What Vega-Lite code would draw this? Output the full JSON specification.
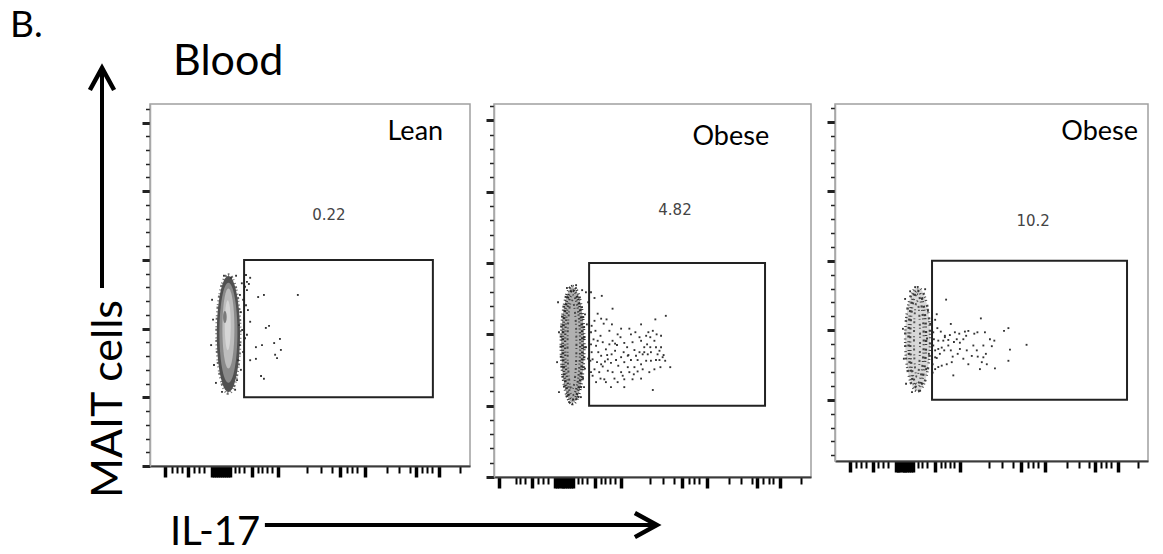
{
 "$schema": "https://vega.github.io/schema/vega-lite/v6.json",
 "padding": {"left": 10, "top": 7, "right": 5, "bottom": 5},
 "background": "white",
 "spacing": 24,
 "bounds": "flush",
 "config": {"view": {"stroke": null}, "axis": {"grid": false}},
 "datasets": {
  "events": [
   {"p":"a","u":338,"v":2.46},{"p":"a","u":356,"v":2.49},{"p":"a","u":462,"v":2.49},{"p":"a","u":309,"v":2.65},{"p":"a","u":313,"v":2.10},{"p":"a","u":362,"v":2.01},{"p":"a","u":372,"v":2.04},{"p":"a","u":406,"v":1.85},{"p":"a","u":388,"v":1.79},{"p":"a","u":331,"v":1.73},{"p":"a","u":350,"v":1.76},{"p":"a","u":409,"v":1.69},{"p":"a","u":391,"v":1.62},{"p":"a","u":397,"v":1.57},{"p":"a","u":331,"v":1.56},{"p":"a","u":347,"v":1.31},{"p":"a","u":356,"v":1.27},{"p":"a","u":313,"v":1.54},{"p":"a","u":303,"v":2.56},{"p":"a","u":306,"v":2.27},{"p":"a","u":303,"v":1.91},
   {"p":"a","u":287,"v":2.66},{"p":"a","u":297,"v":2.61},{"p":"a","u":281,"v":2.49},{"p":"a","u":291,"v":2.42},{"p":"a","u":300,"v":2.34},{"p":"a","u":284,"v":2.24},{"p":"a","u":294,"v":2.15},{"p":"a","u":278,"v":2.05},{"p":"a","u":288,"v":1.98},{"p":"a","u":297,"v":1.86},{"p":"a","u":281,"v":1.76},{"p":"a","u":291,"v":1.66},{"p":"a","u":275,"v":1.54},{"p":"a","u":284,"v":1.40},{"p":"a","u":272,"v":1.25},{"p":"a","u":194,"v":2.42},{"p":"a","u":197,"v":2.13},{"p":"a","u":191,"v":1.76},{"p":"a","u":200,"v":1.47},{"p":"a","u":206,"v":1.21},{"p":"a","u":225,"v":1.08},{"p":"a","u":266,"v":1.11},{"p":"a","u":253,"v":2.74},{"p":"a","u":231,"v":2.77},{"p":"a","u":269,"v":2.77},{"p":"a","u":300,"v":2.78},{"p":"a","u":313,"v":2.74},{"p":"a","u":303,"v":2.68},
   {"p":"b","u":317,"v":2.51},{"p":"b","u":340,"v":2.54},{"p":"b","u":374,"v":2.36},{"p":"b","u":338,"v":2.22},{"p":"b","u":355,"v":2.21},{"p":"b","u":372,"v":2.14},{"p":"b","u":464,"v":2.14},{"p":"b","u":509,"v":2.21},{"p":"b","u":542,"v":2.26},{"p":"b","u":320,"v":2.05},{"p":"b","u":336,"v":1.98},{"p":"b","u":390,"v":2.00},{"p":"b","u":374,"v":1.91},{"p":"b","u":382,"v":1.87},{"p":"b","u":388,"v":1.85},{"p":"b","u":411,"v":1.88},{"p":"b","u":432,"v":2.00},{"p":"b","u":446,"v":2.03},{"p":"b","u":487,"v":2.03},{"p":"b","u":513,"v":2.00},{"p":"b","u":527,"v":1.98},{"p":"b","u":493,"v":1.96},{"p":"b","u":464,"v":1.91},{"p":"b","u":506,"v":1.91},{"p":"b","u":483,"v":1.86},{"p":"b","u":474,"v":1.82},{"p":"b","u":493,"v":1.82},{"p":"b","u":511,"v":1.82},{"p":"b","u":527,"v":1.82},{"p":"b","u":443,"v":1.78},{"p":"b","u":409,"v":1.75},{"p":"b","u":424,"v":1.71},{"p":"b","u":401,"v":1.68},{"p":"b","u":459,"v":1.75},{"p":"b","u":469,"v":1.72},{"p":"b","u":432,"v":1.64},{"p":"b","u":453,"v":1.64},{"p":"b","u":480,"v":1.63},{"p":"b","u":495,"v":1.63},{"p":"b","u":511,"v":1.64},{"p":"b","u":522,"v":1.64},{"p":"b","u":532,"v":1.68},{"p":"b","u":556,"v":1.54},{"p":"b","u":359,"v":1.65},{"p":"b","u":369,"v":1.60},{"p":"b","u":343,"v":1.55},{"p":"b","u":329,"v":1.75},{"p":"b","u":322,"v":1.84},{"p":"b","u":314,"v":1.93},{"p":"b","u":311,"v":1.65},{"p":"b","u":317,"v":1.51},{"p":"b","u":332,"v":1.47},{"p":"b","u":359,"v":1.49},{"p":"b","u":374,"v":1.47},{"p":"b","u":401,"v":1.47},{"p":"b","u":427,"v":1.47},{"p":"b","u":453,"v":1.48},{"p":"b","u":469,"v":1.51},{"p":"b","u":443,"v":1.54},{"p":"b","u":422,"v":1.54},{"p":"b","u":411,"v":1.37},{"p":"b","u":437,"v":1.37},{"p":"b","u":464,"v":1.38},{"p":"b","u":369,"v":1.26},{"p":"b","u":411,"v":1.26},{"p":"b","u":501,"v":1.22},{"p":"b","u":348,"v":1.37},{"p":"b","u":390,"v":1.33},{"p":"b","u":322,"v":1.33},{"p":"b","u":338,"v":1.70},{"p":"b","u":353,"v":1.79},{"p":"b","u":364,"v":1.86},{"p":"b","u":343,"v":1.89},{"p":"b","u":327,"v":1.91},{"p":"b","u":411,"v":1.61},{"p":"b","u":392,"v":1.56},{"p":"b","u":385,"v":1.64},{"p":"b","u":485,"v":1.72},{"p":"b","u":464,"v":1.58},{"p":"b","u":506,"v":1.51},{"p":"b","u":522,"v":1.77},{"p":"b","u":501,"v":2.05},{"p":"b","u":480,"v":1.98},{"p":"b","u":306,"v":2.03},{"p":"b","u":306,"v":1.86},{"p":"b","u":308,"v":1.75},{"p":"b","u":304,"v":1.63},{"p":"b","u":306,"v":1.47},{"p":"b","u":311,"v":1.42},{"p":"b","u":308,"v":2.12},{"p":"b","u":317,"v":2.19},{"p":"b","u":327,"v":2.29},{"p":"b","u":346,"v":2.15},{"p":"b","u":364,"v":2.05},{"p":"b","u":399,"v":1.96},{"p":"b","u":420,"v":1.82},{"p":"b","u":437,"v":1.89},{"p":"b","u":459,"v":1.96},{"p":"b","u":427,"v":2.08},{"p":"b","u":401,"v":2.08},{"p":"b","u":382,"v":1.77},{"p":"b","u":371,"v":1.72},{"p":"b","u":357,"v":1.71},{"p":"b","u":422,"v":1.70},{"p":"b","u":448,"v":1.70},{"p":"b","u":474,"v":1.75},{"p":"b","u":495,"v":1.75},{"p":"b","u":516,"v":1.72},{"p":"b","u":535,"v":1.71},{"p":"b","u":540,"v":1.63},{"p":"b","u":525,"v":1.54},{"p":"b","u":490,"v":1.47},{"p":"b","u":441,"v":1.44},{"p":"b","u":406,"v":1.42},{"p":"b","u":380,"v":1.38},{"p":"b","u":353,"v":1.33},{"p":"b","u":336,"v":1.38},{"p":"b","u":325,"v":1.61},{"p":"b","u":338,"v":1.58},{"p":"b","u":350,"v":1.62},
   {"p":"b","u":290,"v":2.59},{"p":"b","u":297,"v":2.45},{"p":"b","u":287,"v":2.28},{"p":"b","u":293,"v":2.14},{"p":"b","u":284,"v":1.96},{"p":"b","u":290,"v":1.82},{"p":"b","u":297,"v":1.66},{"p":"b","u":287,"v":1.52},{"p":"b","u":281,"v":1.38},{"p":"b","u":284,"v":1.26},{"p":"b","u":274,"v":1.12},{"p":"b","u":202,"v":2.45},{"p":"b","u":205,"v":2.03},{"p":"b","u":199,"v":1.61},{"p":"b","u":205,"v":1.19},{"p":"b","u":259,"v":2.69},{"p":"b","u":230,"v":2.65},{"p":"b","u":278,"v":2.62},{"p":"b","u":306,"v":2.59},{"p":"b","u":237,"v":1.05},{"p":"b","u":259,"v":1.09},
   {"p":"c","u":355,"v":2.44},{"p":"c","u":466,"v":2.17},{"p":"c","u":370,"v":2.09},{"p":"c","u":320,"v":2.15},{"p":"c","u":327,"v":2.03},{"p":"c","u":338,"v":1.98},{"p":"c","u":351,"v":1.92},{"p":"c","u":367,"v":1.93},{"p":"c","u":383,"v":1.97},{"p":"c","u":397,"v":1.95},{"p":"c","u":415,"v":1.98},{"p":"c","u":426,"v":1.99},{"p":"c","u":445,"v":1.95},{"p":"c","u":455,"v":1.97},{"p":"c","u":479,"v":1.97},{"p":"c","u":495,"v":1.87},{"p":"c","u":509,"v":1.85},{"p":"c","u":540,"v":1.99},{"p":"c","u":554,"v":2.03},{"p":"c","u":612,"v":1.79},{"p":"c","u":559,"v":1.72},{"p":"c","u":554,"v":1.56},{"p":"c","u":511,"v":1.45},{"p":"c","u":463,"v":1.44},{"p":"c","u":469,"v":1.54},{"p":"c","u":474,"v":1.61},{"p":"c","u":482,"v":1.66},{"p":"c","u":456,"v":1.62},{"p":"c","u":453,"v":1.71},{"p":"c","u":421,"v":1.71},{"p":"c","u":426,"v":1.51},{"p":"c","u":392,"v":1.66},{"p":"c","u":376,"v":1.62},{"p":"c","u":373,"v":1.54},{"p":"c","u":357,"v":1.51},{"p":"c","u":341,"v":1.49},{"p":"c","u":330,"v":1.47},{"p":"c","u":320,"v":1.44},{"p":"c","u":325,"v":1.60},{"p":"c","u":335,"v":1.66},{"p":"c","u":349,"v":1.71},{"p":"c","u":362,"v":1.78},{"p":"c","u":380,"v":1.83},{"p":"c","u":399,"v":1.82},{"p":"c","u":410,"v":1.87},{"p":"c","u":389,"v":1.87},{"p":"c","u":362,"v":1.86},{"p":"c","u":346,"v":1.85},{"p":"c","u":330,"v":1.85},{"p":"c","u":316,"v":1.87},{"p":"c","u":314,"v":1.78},{"p":"c","u":320,"v":1.71},{"p":"c","u":320,"v":1.61},{"p":"c","u":378,"v":1.35},{"p":"c","u":351,"v":1.90},{"p":"c","u":442,"v":1.78},{"p":"c","u":474,"v":1.78},{"p":"c","u":501,"v":1.77},{"p":"c","u":419,"v":1.92},{"p":"c","u":399,"v":1.73},{"p":"c","u":314,"v":1.97},{"p":"c","u":325,"v":2.23},{"p":"c","u":312,"v":1.51},{"p":"c","u":312,"v":1.39},{"p":"c","u":410,"v":1.59},{"p":"c","u":437,"v":1.63},{"p":"c","u":485,"v":1.51},{"p":"c","u":341,"v":1.75},{"p":"c","u":370,"v":1.71},{"p":"c","u":330,"v":1.73},
   {"p":"c","u":288,"v":2.59},{"p":"c","u":278,"v":2.45},{"p":"c","u":297,"v":2.28},{"p":"c","u":304,"v":2.09},{"p":"c","u":294,"v":1.88},{"p":"c","u":300,"v":1.66},{"p":"c","u":291,"v":1.44},{"p":"c","u":278,"v":1.23},{"p":"c","u":224,"v":2.45},{"p":"c","u":217,"v":2.02},{"p":"c","u":220,"v":1.59},{"p":"c","u":227,"v":1.23},{"p":"c","u":256,"v":2.62},{"p":"c","u":240,"v":2.56},{"p":"c","u":272,"v":1.13},{"p":"c","u":246,"v":1.11}
  ]
 },
 "hconcat": [
  {
   "width": 320, "height": 362,
   "encoding": {
    "x": {"field":"u","type":"quantitative","scale":{"domain":[0,1000],"nice":false,"zero":false},
     "axis":{"orient":"bottom","title":null,"labels":false,"grid":false,"values":[47,68,83,99,120,138,153,169,194,200,206,213,219,225,231,238,244,250,266,278,294,319,338,350,366,381,400,491,534,569,594,616,631,647,672,741,778,813,831,850,866,881,903,969],"domainColor":"#3a3a3a","domainWidth":2,"tickColor":"#000","tickSize":{"condition":{"test":"indexof([47,120,194,200,206,213,219,225,231,238,244,250,319,400,594,672,831,903], datum.value) >= 0","value":11},"value":7},"tickWidth":{"condition":{"test":"indexof([47,120,194,200,206,213,219,225,231,238,244,250,319,400,594,672,831,903], datum.value) >= 0","value":3.5},"value":2},"zindex":1}},
    "y": {"field":"v","type":"quantitative","scale":{"domain":[0,5.27],"nice":false,"zero":false},
     "axis":{"orient":"left","title":null,"labels":false,"grid":false,"values":[0,0.2,0.4,0.6,0.8,1,1.2,1.4,1.6,1.8,2,2.2,2.4,2.6,2.8,3,3.2,3.4,3.6,3.8,4,4.2,4.4,4.6,4.8,5,5.2],"domainColor":"#a8a8a8","domainWidth":1.5,"tickColor":"#222","tickSize":{"condition":{"test":"datum.value % 1 === 0","value":8},"value":4.5},"tickWidth":{"condition":{"test":"datum.value % 1 === 0","value":3},"value":1.5},"zindex":1}}
   },
   "layer": [
    {"data":{"values":[{"u":0,"u2":1000,"v":0,"v2":5.27}]},"mark":{"type":"rect","filled":false,"stroke":"#a0a0a0","strokeWidth":1.5},"encoding":{"x2":{"field":"u2"},"y2":{"field":"v2"}}},
    {"data":{"values":[{"u":245,"v":1.92}]},"mark":{"type":"point","shape":"M0,-1C0.11,-1,0.2,-0.552,0.2,0C0.2,0.552,0.11,1,0,1C-0.11,1,-0.2,0.552,-0.2,0C-0.2,-0.552,-0.11,-1,0,-1Z","size":14161,"filled":false,"stroke":"#6a6a6a","strokeWidth":2.5,"strokeDash":[1,2.5,2,1.5,1,3],"opacity":1}},
    {"data":{"values":[{"u":245,"v":1.92}]},"mark":{"type":"point","shape":"M0,-1C0.11,-1,0.2,-0.552,0.2,0C0.2,0.552,0.11,1,0,1C-0.11,1,-0.2,0.552,-0.2,0C-0.2,-0.552,-0.11,-1,0,-1Z","size":13456,"filled":true,"fill":"#505050","strokeWidth":0,"opacity":1}},
    {"data":{"values":[{"u":245,"v":1.94}]},"mark":{"type":"point","shape":"M0,-1C0.099,-1,0.18,-0.552,0.18,0C0.18,0.552,0.099,1,0,1C-0.099,1,-0.18,0.552,-0.18,0C-0.18,-0.552,-0.099,-1,0,-1Z","size":10000,"filled":true,"fill":"#8a8a8a","strokeWidth":0,"opacity":1}},
    {"data":{"values":[{"u":245,"v":2.0}]},"mark":{"type":"point","shape":"M0,-1C0.083,-1,0.15,-0.552,0.15,0C0.15,0.552,0.083,1,0,1C-0.083,1,-0.15,0.552,-0.15,0C-0.15,-0.552,-0.083,-1,0,-1Z","size":6400,"filled":true,"fill":"#bdbdbd","strokeWidth":0,"opacity":1}},
    {"data":{"values":[{"u":243,"v":2.05}]},"mark":{"type":"point","shape":"M0,-1C0.066,-1,0.12,-0.552,0.12,0C0.12,0.552,0.066,1,0,1C-0.066,1,-0.12,0.552,-0.12,0C-0.12,-0.552,-0.066,-1,0,-1Z","size":2500,"filled":true,"fill":"#d6d6d6","strokeWidth":0,"opacity":1}},
    {"data":{"values":[{"u":234,"v":2.17}]},"mark":{"type":"point","shape":"M0,-1C0.166,-1,0.3,-0.552,0.3,0C0.3,0.552,0.166,1,0,1C-0.166,1,-0.3,0.552,-0.3,0C-0.3,-0.552,-0.166,-1,0,-1Z","size":144,"filled":true,"fill":"#7a7a7a","strokeWidth":0,"opacity":1}},
    {"data":{"name":"events"},"transform":[{"filter":"datum.p === 'a'"}],"mark":{"type":"point","shape":"square","size":3.5,"filled":true,"color":"#333","opacity":1}},
    {"data":{"values":[{"u":294,"u2":884,"v":1,"v2":3}]},"mark":{"type":"rect","filled":false,"stroke":"#222","strokeWidth":2},"encoding":{"x2":{"field":"u2"},"y2":{"field":"v2"}}},
    {"data":{"values":[{"u":559,"v":3.58,"label":"0.22"}]},"mark":{"type":"text","font":"DejaVu Sans","fontSize":15,"color":"#444","align":"center","baseline":"alphabetic"},"encoding":{"text":{"field":"label","type":"nominal"}}},
    {"data":{"values":[{"u":916,"v":4.75,"label":"Lean"}]},"mark":{"type":"text","font":"Lato","fontSize":27,"color":"#000","align":"right","baseline":"alphabetic"},"encoding":{"text":{"field":"label","type":"nominal"}}},
    {"data":{"values":[{"u":-437.5,"v":6.245,"label":"B."}]},"mark":{"type":"text","font":"Lato","fontSize":37,"color":"#000","align":"left","baseline":"alphabetic"},"encoding":{"text":{"field":"label","type":"nominal"}}},
    {"data":{"values":[{"u":71.9,"v":5.692,"label":"Blood"}]},"mark":{"type":"text","font":"Lato","fontSize":43,"color":"#000","align":"left","baseline":"alphabetic"},"encoding":{"text":{"field":"label","type":"nominal"}}},
    {"data":{"values":[{"u":-87.5,"v":-0.466,"label":"MAIT cells"}]},"mark":{"type":"text","font":"Lato","fontSize":43,"color":"#000","align":"left","baseline":"alphabetic","angle":270},"encoding":{"text":{"field":"label","type":"nominal"}}},
    {"data":{"values":[{"u":62.5,"v":-1.15,"label":"IL-17"}]},"mark":{"type":"text","font":"Lato","fontSize":40,"color":"#000","align":"left","baseline":"alphabetic"},"encoding":{"text":{"field":"label","type":"nominal"}}},
    {"data":{"values":[{"u":-150,"v":2.591,"v2":5.765}]},"mark":{"type":"rule","stroke":"#000","strokeWidth":4},"encoding":{"y2":{"field":"v2"}}},
    {"data":{"values":[{"u":-150,"v":5.794}]},"mark":{"type":"point","shape":"M-0.55,1L0,0L0.55,1","size":1936,"filled":false,"stroke":"#000","strokeWidth":4.5,"strokeJoin":"miter","opacity":1}},
    {"data":{"values":[{"u":359,"u2":1578,"v":-0.859}]},"mark":{"type":"rule","stroke":"#000","strokeWidth":4},"encoding":{"x2":{"field":"u2"}}},
    {"data":{"values":[{"u":1584,"v":-0.859}]},"mark":{"type":"point","shape":"M-1,-0.55L0,0L-1,0.55","size":1936,"filled":false,"stroke":"#000","strokeWidth":4.5,"strokeJoin":"miter","opacity":1}}
   ]
  },
  {
   "width": 317, "height": 373,
   "encoding": {
    "x": {"field":"u","type":"quantitative","scale":{"domain":[0,1000],"nice":false,"zero":false},
     "axis":{"orient":"bottom","title":null,"labels":false,"grid":false,"values":[16,68,83,99,120,138,153,169,194,200,206,213,219,225,231,238,244,250,266,278,294,319,338,350,366,381,400,491,534,569,594,616,631,647,672,741,778,813,831,850,866,881,903,969],"domainColor":"#3a3a3a","domainWidth":2,"tickColor":"#000","tickSize":{"condition":{"test":"indexof([16,120,194,200,206,213,219,225,231,238,244,250,319,400,594,672,831,903], datum.value) >= 0","value":11},"value":7},"tickWidth":{"condition":{"test":"indexof([16,120,194,200,206,213,219,225,231,238,244,250,319,400,594,672,831,903], datum.value) >= 0","value":3.5},"value":2},"zindex":1}},
    "y": {"field":"v","type":"quantitative","scale":{"domain":[0,5.23],"nice":false,"zero":false},
     "axis":{"orient":"left","title":null,"labels":false,"grid":false,"values":[0,0.2,0.4,0.6,0.8,1,1.2,1.4,1.6,1.8,2,2.2,2.4,2.6,2.8,3,3.2,3.4,3.6,3.8,4,4.2,4.4,4.6,4.8,5,5.2],"domainColor":"#a8a8a8","domainWidth":1.5,"tickColor":"#222","tickSize":{"condition":{"test":"datum.value % 1 === 0","value":8},"value":4.5},"tickWidth":{"condition":{"test":"datum.value % 1 === 0","value":3},"value":1.5},"zindex":1}}
   },
   "layer": [
    {"data":{"values":[{"u":0,"u2":1000,"v":0,"v2":5.23}]},"mark":{"type":"rect","filled":false,"stroke":"#a0a0a0","strokeWidth":1.5},"encoding":{"x2":{"field":"u2"},"y2":{"field":"v2"}}},
    {"data":{"values":[{"u":248,"v":1.85}]},"mark":{"type":"point","shape":"M0,-1C0.11,-1,0.2,-0.552,0.2,0C0.2,0.552,0.11,1,0,1C-0.11,1,-0.2,0.552,-0.2,0C-0.2,-0.552,-0.11,-1,0,-1Z","size":13225,"filled":true,"fill":"#b0b0b0","strokeWidth":0,"opacity":1}},
    {"data":{"values":[{"u":248,"v":1.85}]},"mark":{"type":"point","shape":"M0,-1C0.11,-1,0.2,-0.552,0.2,0C0.2,0.552,0.11,1,0,1C-0.11,1,-0.2,0.552,-0.2,0C-0.2,-0.552,-0.11,-1,0,-1Z","size":13924,"filled":false,"stroke":"#333","strokeWidth":2.5,"strokeDash":[1,2,2,1,1,3],"opacity":1}},
    {"data":{"values":[{"u":248,"v":1.85}]},"mark":{"type":"point","shape":"M0,-1C0.099,-1,0.18,-0.552,0.18,0C0.18,0.552,0.099,1,0,1C-0.099,1,-0.18,0.552,-0.18,0C-0.18,-0.552,-0.099,-1,0,-1Z","size":11881,"filled":false,"stroke":"#2a2a2a","strokeWidth":2.5,"strokeDash":[2,1.5,1,2.5],"opacity":1}},
    {"data":{"values":[{"u":248,"v":1.85}]},"mark":{"type":"point","shape":"M0,-1C0.083,-1,0.15,-0.552,0.15,0C0.15,0.552,0.083,1,0,1C-0.083,1,-0.15,0.552,-0.15,0C-0.15,-0.552,-0.083,-1,0,-1Z","size":10000,"filled":false,"stroke":"#3a3a3a","strokeWidth":2.2,"strokeDash":[1,2.5,1.5,2],"opacity":1}},
    {"data":{"values":[{"u":246,"v":1.85}]},"mark":{"type":"point","shape":"M0,-1C0.055,-1,0.1,-0.552,0.1,0C0.1,0.552,0.055,1,0,1C-0.055,1,-0.1,0.552,-0.1,0C-0.1,-0.552,-0.055,-1,0,-1Z","size":7921,"filled":false,"stroke":"#4a4a4a","strokeWidth":2,"strokeDash":[1,3,2,2],"opacity":1}},
    {"data":{"name":"events"},"transform":[{"filter":"datum.p === 'b'"}],"mark":{"type":"point","shape":"square","size":3.5,"filled":true,"color":"#333","opacity":1}},
    {"data":{"values":[{"u":300,"u2":855,"v":1,"v2":3}]},"mark":{"type":"rect","filled":false,"stroke":"#222","strokeWidth":2},"encoding":{"x2":{"field":"u2"},"y2":{"field":"v2"}}},
    {"data":{"values":[{"u":571,"v":3.67,"label":"4.82"}]},"mark":{"type":"text","font":"DejaVu Sans","fontSize":15,"color":"#444","align":"center","baseline":"alphabetic"},"encoding":{"text":{"field":"label","type":"nominal"}}},
    {"data":{"values":[{"u":868,"v":4.65,"label":"Obese"}]},"mark":{"type":"text","font":"Lato","fontSize":27,"color":"#000","align":"right","baseline":"alphabetic"},"encoding":{"text":{"field":"label","type":"nominal"}}}
   ]
  },
  {
   "width": 313, "height": 357,
   "encoding": {
    "x": {"field":"u","type":"quantitative","scale":{"domain":[0,1000],"nice":false,"zero":false},
     "axis":{"orient":"bottom","title":null,"labels":false,"grid":false,"values":[47,68,83,99,120,138,153,169,194,200,206,213,219,225,231,238,244,250,266,278,294,319,338,350,366,381,400,491,534,569,594,616,631,647,672,741,778,813,831,850,866,881,903,969],"domainColor":"#3a3a3a","domainWidth":2,"tickColor":"#000","tickSize":{"condition":{"test":"indexof([47,120,194,200,206,213,219,225,231,238,244,250,319,400,594,672,831,903], datum.value) >= 0","value":11},"value":7},"tickWidth":{"condition":{"test":"indexof([47,120,194,200,206,213,219,225,231,238,244,250,319,400,594,672,831,903], datum.value) >= 0","value":3.5},"value":2},"zindex":1}},
    "y": {"field":"v","type":"quantitative","scale":{"domain":[0.118,5.255],"nice":false,"zero":false},
     "axis":{"orient":"left","title":null,"labels":false,"grid":false,"values":[0.2,0.4,0.6,0.8,1,1.2,1.4,1.6,1.8,2,2.2,2.4,2.6,2.8,3,3.2,3.4,3.6,3.8,4,4.2,4.4,4.6,4.8,5,5.2],"domainColor":"#a8a8a8","domainWidth":1.5,"tickColor":"#222","tickSize":{"condition":{"test":"datum.value % 1 === 0","value":8},"value":4.5},"tickWidth":{"condition":{"test":"datum.value % 1 === 0","value":3},"value":1.5},"zindex":1}}
   },
   "layer": [
    {"data":{"values":[{"u":0,"u2":1000,"v":0.118,"v2":5.255}]},"mark":{"type":"rect","filled":false,"stroke":"#a0a0a0","strokeWidth":1.5},"encoding":{"x2":{"field":"u2"},"y2":{"field":"v2"}}},
    {"data":{"values":[{"u":264,"v":1.87}]},"mark":{"type":"point","shape":"M0,-1C0.132,-1,0.24,-0.552,0.24,0C0.24,0.552,0.132,1,0,1C-0.132,1,-0.24,0.552,-0.24,0C-0.24,-0.552,-0.132,-1,0,-1Z","size":10816,"filled":true,"fill":"#d8d8d8","strokeWidth":0,"opacity":1}},
    {"data":{"values":[{"u":264,"v":1.87}]},"mark":{"type":"point","shape":"M0,-1C0.132,-1,0.24,-0.552,0.24,0C0.24,0.552,0.132,1,0,1C-0.132,1,-0.24,0.552,-0.24,0C-0.24,-0.552,-0.132,-1,0,-1Z","size":10816,"filled":false,"stroke":"#444","strokeWidth":2.5,"strokeDash":[1,2.5,1,4,2,2],"opacity":1}},
    {"data":{"values":[{"u":263,"v":1.87}]},"mark":{"type":"point","shape":"M0,-1C0.099,-1,0.18,-0.552,0.18,0C0.18,0.552,0.099,1,0,1C-0.099,1,-0.18,0.552,-0.18,0C-0.18,-0.552,-0.099,-1,0,-1Z","size":9409,"filled":false,"stroke":"#3a3a3a","strokeWidth":2.5,"strokeDash":[2,2,1,3.5],"opacity":1}},
    {"data":{"values":[{"u":262,"v":1.87}]},"mark":{"type":"point","shape":"M0,-1C0.083,-1,0.15,-0.552,0.15,0C0.15,0.552,0.083,1,0,1C-0.083,1,-0.15,0.552,-0.15,0C-0.15,-0.552,-0.083,-1,0,-1Z","size":8100,"filled":false,"stroke":"#444","strokeWidth":2.2,"strokeDash":[1,3,2,2.5],"opacity":1}},
    {"data":{"values":[{"u":262,"v":1.87}]},"mark":{"type":"point","shape":"M0,-1C0.044,-1,0.08,-0.552,0.08,0C0.08,0.552,0.044,1,0,1C-0.044,1,-0.08,0.552,-0.08,0C-0.08,-0.552,-0.044,-1,0,-1Z","size":5776,"filled":false,"stroke":"#555","strokeWidth":2,"strokeDash":[1,4,2,2],"opacity":1}},
    {"data":{"name":"events"},"transform":[{"filter":"datum.p === 'c'"}],"mark":{"type":"point","shape":"square","size":3.5,"filled":true,"color":"#333","opacity":1}},
    {"data":{"values":[{"u":310,"u2":933,"v":1,"v2":3}]},"mark":{"type":"rect","filled":false,"stroke":"#222","strokeWidth":2},"encoding":{"x2":{"field":"u2"},"y2":{"field":"v2"}}},
    {"data":{"values":[{"u":633,"v":3.5,"label":"10.2"}]},"mark":{"type":"text","font":"DejaVu Sans","fontSize":15,"color":"#444","align":"center","baseline":"alphabetic"},"encoding":{"text":{"field":"label","type":"nominal"}}},
    {"data":{"values":[{"u":968,"v":4.73,"label":"Obese"}]},"mark":{"type":"text","font":"Lato","fontSize":27,"color":"#000","align":"right","baseline":"alphabetic"},"encoding":{"text":{"field":"label","type":"nominal"}}}
   ]
  }
 ]
}
